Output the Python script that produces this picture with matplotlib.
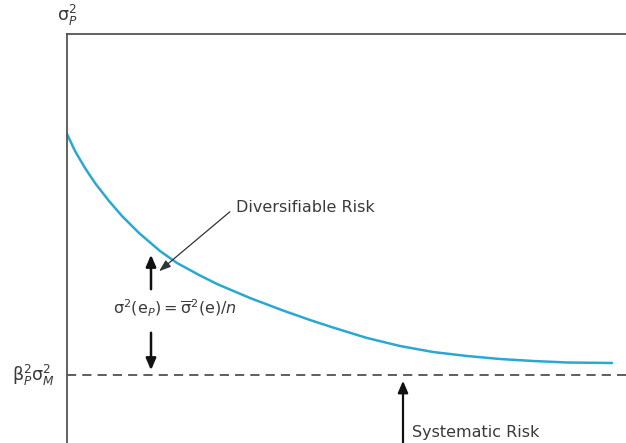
import matplotlib.pyplot as plt

# Data (x = number of stocks scale, y = portfolio variance scale)
n_stocks = [0, 8, 18, 28, 42, 55, 72, 93, 110, 133, 150, 183, 216, 243,
            266, 300, 333, 366, 400, 433, 466, 500, 545]
port_var = [309, 292, 275, 260, 242, 227, 210, 192, 180, 167.5, 159, 145, 132.5, 123,
            115.5, 105, 97, 91, 87, 84, 82, 80.5, 80]
systematic_var = 68

plt.rcParams['mathtext.fontset'] = 'dejavusans'

fig = plt.figure(figsize=(6.26, 4.43), dpi=100)
ax = fig.add_axes([67 / 626, 0, 1 - 67 / 626, 409 / 443])

ax.plot(n_stocks, port_var, color='#2aa8d2', linewidth=1.8, solid_capstyle='round')
ax.axhline(systematic_var, color='#333333', linewidth=1.1, linestyle=(0, (6, 4)))

ax.set_xlim(0, 559)
ax.set_ylim(0, 409)
ax.set_xticks([])
ax.set_yticks([])
for side in ['right', 'bottom']:
    ax.spines[side].set_visible(False)
for side in ['left', 'top']:
    ax.spines[side].set_color('#555555')
    ax.spines[side].set_linewidth(1.3)

txt = '#3a3a3a'

# double arrow for diversifiable risk
head = dict(arrowstyle='-|>,head_length=0.7,head_width=0.3', color='#111111', lw=1.8)
ax.annotate('', xy=(84, 191), xytext=(84, 151), arrowprops=head)
ax.annotate('', xy=(84, 70), xytext=(84, 113), arrowprops=head)
ax.text(108, 135, r'$\mathrm{\sigma}^2(\mathrm{e}_P) = \overline{\mathrm{\sigma}}^2(\mathrm{e})/n$',
        fontsize=11.5, ha='center', va='center', color=txt)

ax.annotate('', xy=(90, 170), xytext=(165, 233),
            arrowprops=dict(arrowstyle='-|>,head_length=0.7,head_width=0.25',
                            color='#333333', lw=0.9))
ax.text(169, 236, 'Diversifiable Risk', fontsize=11.5, ha='left', va='center', color=txt)

ax.annotate('', xy=(336, 65), xytext=(336, -5),
            arrowprops=dict(arrowstyle='-|>,head_length=0.7,head_width=0.3',
                            color='#111111', lw=1.6), annotation_clip=False)
ax.text(345, 11, 'Systematic Risk', fontsize=11.5, ha='left', va='center', color=txt)

# axis labels
fig.text(67 / 626, 1 - 15 / 443, r'$\mathrm{\sigma}_P^2$', fontsize=12.5,
         ha='center', va='center', color=txt)
fig.text(55 / 626, 1 - 375 / 443, r'$\mathrm{\beta}_P^2\mathrm{\sigma}_M^2$', fontsize=12.5,
         ha='right', va='center', color=txt)

plt.savefig('out.png', dpi=100)
